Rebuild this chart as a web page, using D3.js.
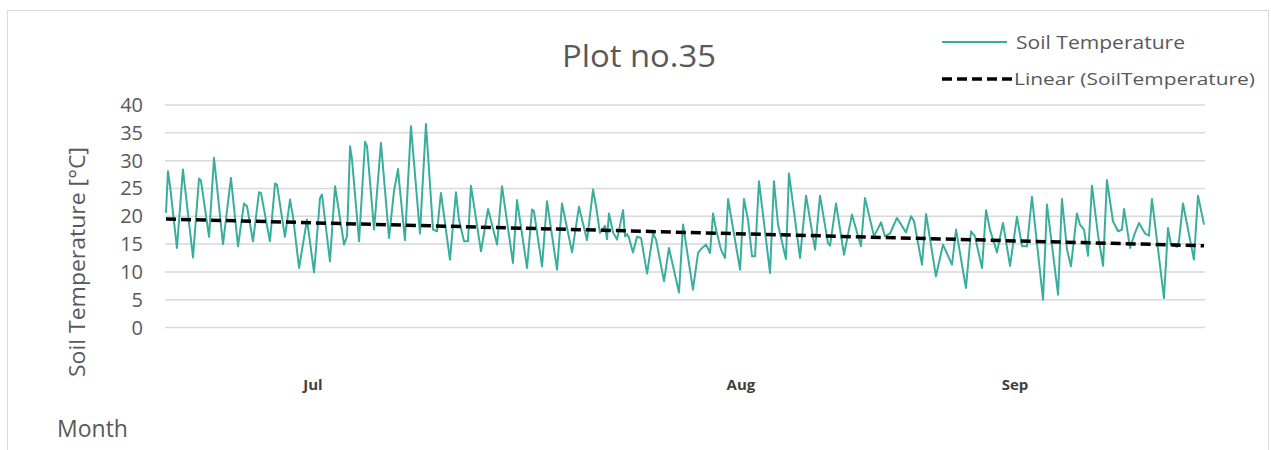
<!DOCTYPE html>
<html>
<head>
<meta charset="utf-8">
<script src="https://cdn.jsdelivr.net/npm/d3@7"></script>
<style>
body{margin:0;background:#fff;}
svg text{font-family:"Open Sans","Noto Sans",sans-serif;fill:#595959;}
</style>
</head>
<body>
<div id="chart"></div>
<script>
var width = 1271,
height = 450,
teal = "#3aae9e";

// days since start of record
var days = [0,0.13,0.27,0.73,1.13,1.8,2.2,2.33,2.87,3.2,3.8,4.33,4.8,5.2,5.4,5.8,6.2,6.33,6.93,7.27,7.4,7.93,8.27,8.47,8.87,9.4,9.87,10.27,10.4,10.93,
11.27,11.87,12.07,12.27,12.4,12.87,13.27,13.4,13.87,14.33,14.87,15.2,15.47,15.53,15.93,16.33,16.93,17.33,17.8,18.07,18.33,18.93,19.33,19.53,19.87,20.13,20.33,21,21.47,22.07,
22.4,23.13,23.4,24.07,24.4,24.53,25.07,25.4,26.07,26.4,27.07,27.53,28.07,28.47,28.67,28.93,29.27,29.4,29.53,29.8,30.07,30.47,30.6,30.73,30.87,31.13,31.4,31.67,32.07,32.47,
32.67,33.2,33.53,34.2,34.47,35.13,35.47,35.67,36,36.27,36.47,36.67,37,37.27,37.47,38.27,38.53,38.8,39.07,39.27,39.53,40.27,40.53,40.8,41.33,41.53,42.27,42.67,43.27,43.6,
44.13,44.27,44.67,45.2,45.73,46.33,46.6,47.2,47.67,47.93,48.27,48.73,49.33,49.67,49.87,50.4,50.67,51.33,51.8,52.4,52.67,53.33,53.67,53.93,54.4,54.67,54.93,55.4,55.8,56.27,
56.73,57.07,57.4,57.73,58.47,58.73,59.47,59.73,60.07,60.33,60.73,60.93,61.2,61.47,61.73,62.13,62.47,62.73,63.13,63.47,63.73,63.87,64.27,64.6,64.87,65.27,65.53,65.73,66.53,66.8,
67,67.4,67.53,67.8,68.53,68.8,69.2];

// soil temperature [°C]
var temps = [20.6,28.1,25.4,14.3,28.4,12.6,26.8,26.4,16.3,30.5,15.0,26.9,14.6,22.3,21.8,15.5,24.3,24.2,15.5,25.9,25.7,16.3,23.0,19.9,10.7,19.4,9.9,23.3,23.9,11.9,
25.4,14.9,16.4,32.6,30.2,15.5,33.4,32.6,17.6,33.2,16.1,24.5,28.5,26.6,15.7,36.2,16.9,36.6,17.6,17.3,24.2,12.2,24.3,19.4,15.5,15.5,25.5,13.7,21.3,14.9,
25.4,11.6,22.9,10.7,21.2,20.9,11.0,22.7,10.4,22.3,13.5,21.7,15.7,24.8,21.8,17.0,18.3,15.9,20.5,17.1,15.8,21.1,16.4,16.8,16.1,13.5,16.3,16.1,9.7,16.9,
15.8,8.3,14.3,6.3,18.5,6.8,13.4,14.1,14.9,13.4,20.5,17.6,14.0,12.5,23.1,10.4,23.1,19.4,12.8,12.8,26.3,9.8,26.3,18.5,12.3,27.7,12.5,23.7,14.0,23.7,
15.2,14.7,22.3,13.1,20.3,14.6,23.3,16.4,18.9,16.4,16.9,19.7,17.1,20.0,19.1,11.3,20.4,9.2,14.9,11.3,17.6,7.1,17.3,16.4,10.7,21.1,17.6,13.5,18.8,11.1,
19.9,14.6,14.6,23.5,5.0,22.1,5.9,23.1,14.0,11.0,20.5,18.5,17.6,12.9,25.5,16.7,11.1,26.5,19.1,17.3,17.6,21.3,14.3,17.0,18.8,16.9,16.5,23.1,5.3,17.9,
14.9,14.5,15.5,22.3,12.2,23.7,18.5];

// linear trend end values
var trendDays = [0, 69.2];
var trendTemps = [19.5, 14.7];

var monthNames = ["Jul","Aug","Sep"];
var monthDays = [9.8, 38.33, 56.6];

var yTicks = [0,5,10,15,20,25,30,35,40];

var svg = d3.select("#chart").append("svg")
	.attr("width",width)
	.attr("height",height);

// chart frame
svg.append("rect")
	.attr("x",7.5).attr("y",10.5)
	.attr("width",1261).attr("height",460)
	.attr("fill","none")
	.attr("stroke","#d9d9d9")
	.attr("stroke-width",1);

var x = d3.scaleLinear().domain([0,69.2]).range([166,1204]);
var y = d3.scaleLinear().domain([0,40]).range([327.5,105]);

// gridlines
svg.append("g").selectAll("line")
	.data(yTicks).enter().append("line")
	.attr("x1",165).attr("x2",1205)
	.attr("y1",function(d){return y(d)})
	.attr("y2",function(d){return y(d)})
	.attr("stroke","#d9d9d9")
	.attr("stroke-width",1.5);

// y labels
svg.append("g").selectAll("text")
	.data(yTicks).enter().append("text")
	.attr("x",143)
	.attr("y",function(d){return y(d)+7})
	.attr("text-anchor","end")
	.style("font-size","20px")
	.text(function(d){return d});

// month labels
svg.append("g").selectAll("text")
	.data(monthNames).enter().append("text")
	.attr("x",function(d,i){return x(monthDays[i])})
	.attr("y",390)
	.attr("text-anchor","middle")
	.style("font-size","15px")
	.style("font-weight","bold")
	.style("fill","#404040")
	.text(function(d){return d});

// data line
var line = d3.line()
	.x(function(d,i){return x(days[i])})
	.y(function(d){return y(d)});

svg.append("path")
	.datum(temps)
	.attr("d",line)
	.attr("fill","none")
	.attr("stroke",teal)
	.attr("stroke-width",2)
	.attr("stroke-linejoin","round");

// trend
var trendLine = d3.line()
	.x(function(d,i){return x(trendDays[i])})
	.y(function(d){return y(d)});

svg.append("path")
	.datum(trendTemps)
	.attr("d",trendLine)
	.attr("fill","none")
	.attr("stroke","#000")
	.attr("stroke-width",3.5)
	.attr("stroke-dasharray","10,5");

// title
svg.append("text")
	.attr("x",639).attr("y",67)
	.attr("text-anchor","middle")
	.style("font-size","31px")
	.attr("textLength",154)
	.attr("lengthAdjust","spacingAndGlyphs")
	.text("Plot no.35");

// axis titles
svg.append("text")
	.attr("transform","translate(85,262) rotate(-90)")
	.attr("text-anchor","middle")
	.style("font-size","22px")
	.attr("textLength",230)
	.attr("lengthAdjust","spacingAndGlyphs")
	.text("Soil Temperature [°C]");

svg.append("text")
	.attr("x",57).attr("y",437)
	.style("font-size","23px")
	.text("Month");

// legend
svg.append("line")
	.attr("x1",942).attr("x2",1007)
	.attr("y1",42).attr("y2",42)
	.attr("stroke",teal).attr("stroke-width",2);
svg.append("text")
	.attr("x",1016).attr("y",49)
	.style("font-size","19px")
	.attr("textLength",169)
	.attr("lengthAdjust","spacingAndGlyphs")
	.text("Soil Temperature");

svg.append("line")
	.attr("x1",942).attr("x2",1012)
	.attr("y1",79).attr("y2",79)
	.attr("stroke","#000").attr("stroke-width",3.5)
	.attr("stroke-dasharray","10,5");
svg.append("text")
	.attr("x",1014).attr("y",85)
	.style("font-size","17px")
	.attr("textLength",241)
	.attr("lengthAdjust","spacingAndGlyphs")
	.text("Linear (SoilTemperature)");
</script>
</body>
</html>
